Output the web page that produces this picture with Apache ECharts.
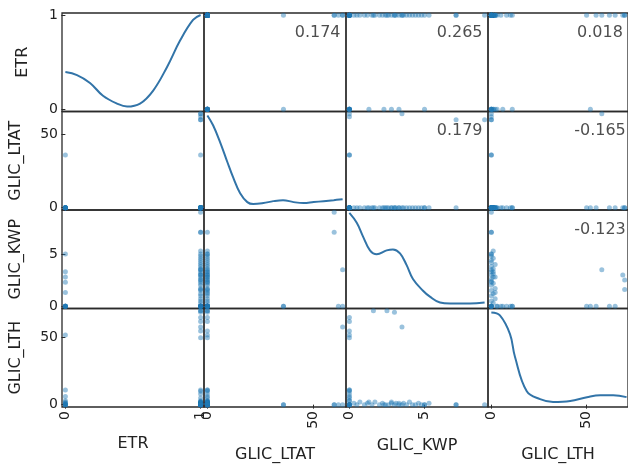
<!DOCTYPE html>
<html>
<head>
<meta charset="utf-8">
<script src="https://cdn.jsdelivr.net/npm/echarts@6/dist/echarts.min.js"></script>
<style>
html, body { margin: 0; padding: 0; background: #fff; }
#main { width: 628px; height: 468px; }
</style>
</head>
<body>
<div id="main"></div>
<script>
// column names
var names = ['ETR', 'GLIC_LTAT', 'GLIC_KWP', 'GLIC_LTH'];

// records (same order in every column)
var etr = [0,0,0,0,0,0,0,0,0,0,0,0,
  1,1,1,1,1,1,1,1,1,1,1,1,1,1,1,1,1,1,1,1,1,1,1,1,1,1,1,1,1,1,
  1,1,1,1,1,1,1,1,1,1,1,1,1,1];
var ltat = [0,0,0,0,0,0,0,36,0,0,0,0,
  0,0,0,0,0,0,0,0,0,0,0,0,0,0,0,0,0,0,0,0,0,0,0,0,0,0,0,0,0,0,
  0,0,0,0,0,0,0,0,36,60,60,62,64,64];
var kwp = [0,0,0,1.3,2.3,3.3,5.0,0,0,0,2.8,0,
  0,0,0,0,0,0.3,0.5,0.7,1.0,1.2,1.5,1.7,2.0,2.2,2.4,2.6,2.8,3.0,3.1,3.3,3.5,3.6,3.8,4.0,4.2,4.4,4.6,4.8,5.0,5.3,
  0,0,0,0,1.6,2.5,3.0,7.1,0,9.0,7.1,0,3.5,0];
var lth = [0,0,3,2,0,1,0,0,52,11,1,6,
  5,8,10,11,3,1,0,2,0,1,0,2,0,1,0,0,2,0,1,0,0,1,0,2,0,0,1,0,0,1,
  50,55,62,65,70,70,69,0,0,0,0,0,58,0];

// tick labels per column
var tickValues = [[0, 1], [0, 50], [0, 5], [0, 50]];

// correlation text, upper triangle
var corrPairs = [[0, 1], [0, 2], [0, 3], [1, 2], [1, 3], [2, 3]];
var corrText = ['0.174', '0.265', '0.018', '0.179', '-0.165', '-0.123'];

// diagonal density curves (x in data units, y as share of cell height)
var etrKdeX = [0, 0.086, 0.182, 0.278, 0.382, 0.456, 0.552, 0.648, 0.751, 0.848, 0.944, 1.0];
var etrKdeY = [0.40, 0.37, 0.29, 0.16, 0.08, 0.05, 0.08, 0.21, 0.45, 0.72, 0.93, 0.98];
var ltatKdeX = [0, 2.7, 6.0, 9.4, 12.2, 15.5, 18.9, 21.7, 26.5, 31.2, 35.8, 40.8, 45.5, 50.3, 55.0, 59.8, 64];
var ltatKdeY = [0.96, 0.86, 0.69, 0.49, 0.33, 0.17, 0.08, 0.06, 0.07, 0.09, 0.10, 0.08, 0.07, 0.08, 0.09, 0.10, 0.11];
var kwpKdeX = [0, 0.49, 0.91, 1.37, 1.82, 2.48, 2.90, 3.37, 3.81, 4.23, 4.90, 5.36, 6.03, 6.70, 8.03, 9.0];
var kwpKdeY = [0.97, 0.87, 0.73, 0.59, 0.55, 0.59, 0.60, 0.56, 0.44, 0.30, 0.18, 0.12, 0.06, 0.05, 0.05, 0.06];
var lthKdeX = [0, 4.5, 9.8, 12.4, 18.6, 25.6, 32.4, 41.4, 50.2, 57.2, 64.0, 71];
var lthKdeY = [0.96, 0.93, 0.74, 0.51, 0.16, 0.08, 0.05, 0.06, 0.10, 0.12, 0.12, 0.10];

var chart = echarts.init(document.getElementById('main'));

var cols = [etr, ltat, kwp, lth];
var kdes = [[etrKdeX, etrKdeY], [ltatKdeX, ltatKdeY], [kwpKdeX, kwpKdeY], [lthKdeX, lthKdeY]];

var font = 'DejaVu Sans';
var blue = '#1f77b4';
var cellLeft = [62, 204, 346, 488], cellTop = [13, 111.5, 210, 308.5];
var cellW = 142, cellH = 98.5;
var xNameGap = [29, 40, 31, 40], yNameGap = [31, 38, 38, 38];

// padded limits like pandas scatter_matrix (range_padding 0.05)
function bounds(arr){
  var mn = Math.min.apply(null, arr), mx = Math.max.apply(null, arr);
  var pad = (mx - mn) * 0.025;
  return [mn - pad, mx + pad];
}
var lims = cols.map(bounds);

var grids = [], xAxes = [], yAxes = [], kdeAxes = [], series = [];

for (var i = 0; i < 4; i++) {
  for (var j = 0; j < 4; j++) {
    var g = i * 4 + j;
    grids.push({
      left: cellLeft[j], top: cellTop[i], width: cellW, height: cellH,
      show: true, borderColor: '#2a2a2a', borderWidth: 1.3, backgroundColor: 'transparent'
    });
    xAxes.push({
      type: 'value', gridIndex: g, min: lims[j][0], max: lims[j][1],
      axisLine: { show: false }, splitLine: { show: false },
      axisTick: { show: i === 3, customValues: tickValues[j], length: 4, lineStyle: { color: '#2a2a2a' } },
      axisLabel: { show: i === 3, customValues: tickValues[j], rotate: 90, margin: 4,
        fontSize: 14, color: '#222', fontFamily: font },
      name: i === 3 ? names[j] : '', nameLocation: 'middle', nameGap: xNameGap[j],
      nameTextStyle: { fontSize: 16, color: '#222', fontFamily: font }
    });
    yAxes.push({
      type: 'value', gridIndex: g, min: lims[i][0], max: lims[i][1],
      axisLine: { show: false }, splitLine: { show: false },
      axisTick: { show: j === 0, customValues: tickValues[i], length: 4, lineStyle: { color: '#2a2a2a' } },
      axisLabel: { show: j === 0, customValues: tickValues[i], margin: 4,
        fontSize: 14, color: '#222', fontFamily: font },
      name: j === 0 ? names[i] : '', nameLocation: 'middle', nameGap: yNameGap[i],
      nameTextStyle: { fontSize: 16, color: '#222', fontFamily: font }
    });

    if (i === j) {
      // density curve on its own hidden y axis
      kdeAxes.push({ type: 'value', gridIndex: g, min: 0, max: 1, show: false });
      series.push({
        type: 'line', xAxisIndex: g, yAxisIndex: 16 + i,
        data: kdes[i][0].map(function(x, k){ return [x, kdes[i][1][k]]; }),
        smooth: 0.4, showSymbol: false, silent: true,
        lineStyle: { color: '#3274a8', width: 2 }
      });
    } else {
      series.push({
        type: 'scatter', xAxisIndex: g, yAxisIndex: g,
        data: cols[j].map(function(x, k){ return [x, cols[i][k]]; }),
        symbolSize: 5, silent: true,
        itemStyle: { color: blue, opacity: 0.45 }
      });
    }
  }
}

// correlation labels at 80% of the cell, through each cell's own axes
corrPairs.forEach(function(p, k){
  var r = p[0], c = p[1];
  var x = lims[c][0] + 0.8 * (lims[c][1] - lims[c][0]);
  var y = lims[r][0] + 0.8 * (lims[r][1] - lims[r][0]);
  series.push({
    type: 'scatter', xAxisIndex: r * 4 + c, yAxisIndex: r * 4 + c,
    data: [[x, y]], symbolSize: 0, silent: true, z: 5,
    label: { show: true, position: 'inside', formatter: corrText[k],
      fontSize: 16, color: '#222', fontFamily: font }
  });
});

chart.setOption({
  animation: false,
  backgroundColor: '#fff',
  textStyle: { fontFamily: font },
  grid: grids,
  xAxis: xAxes,
  yAxis: yAxes.concat(kdeAxes),
  series: series
});
</script>
</body>
</html>
